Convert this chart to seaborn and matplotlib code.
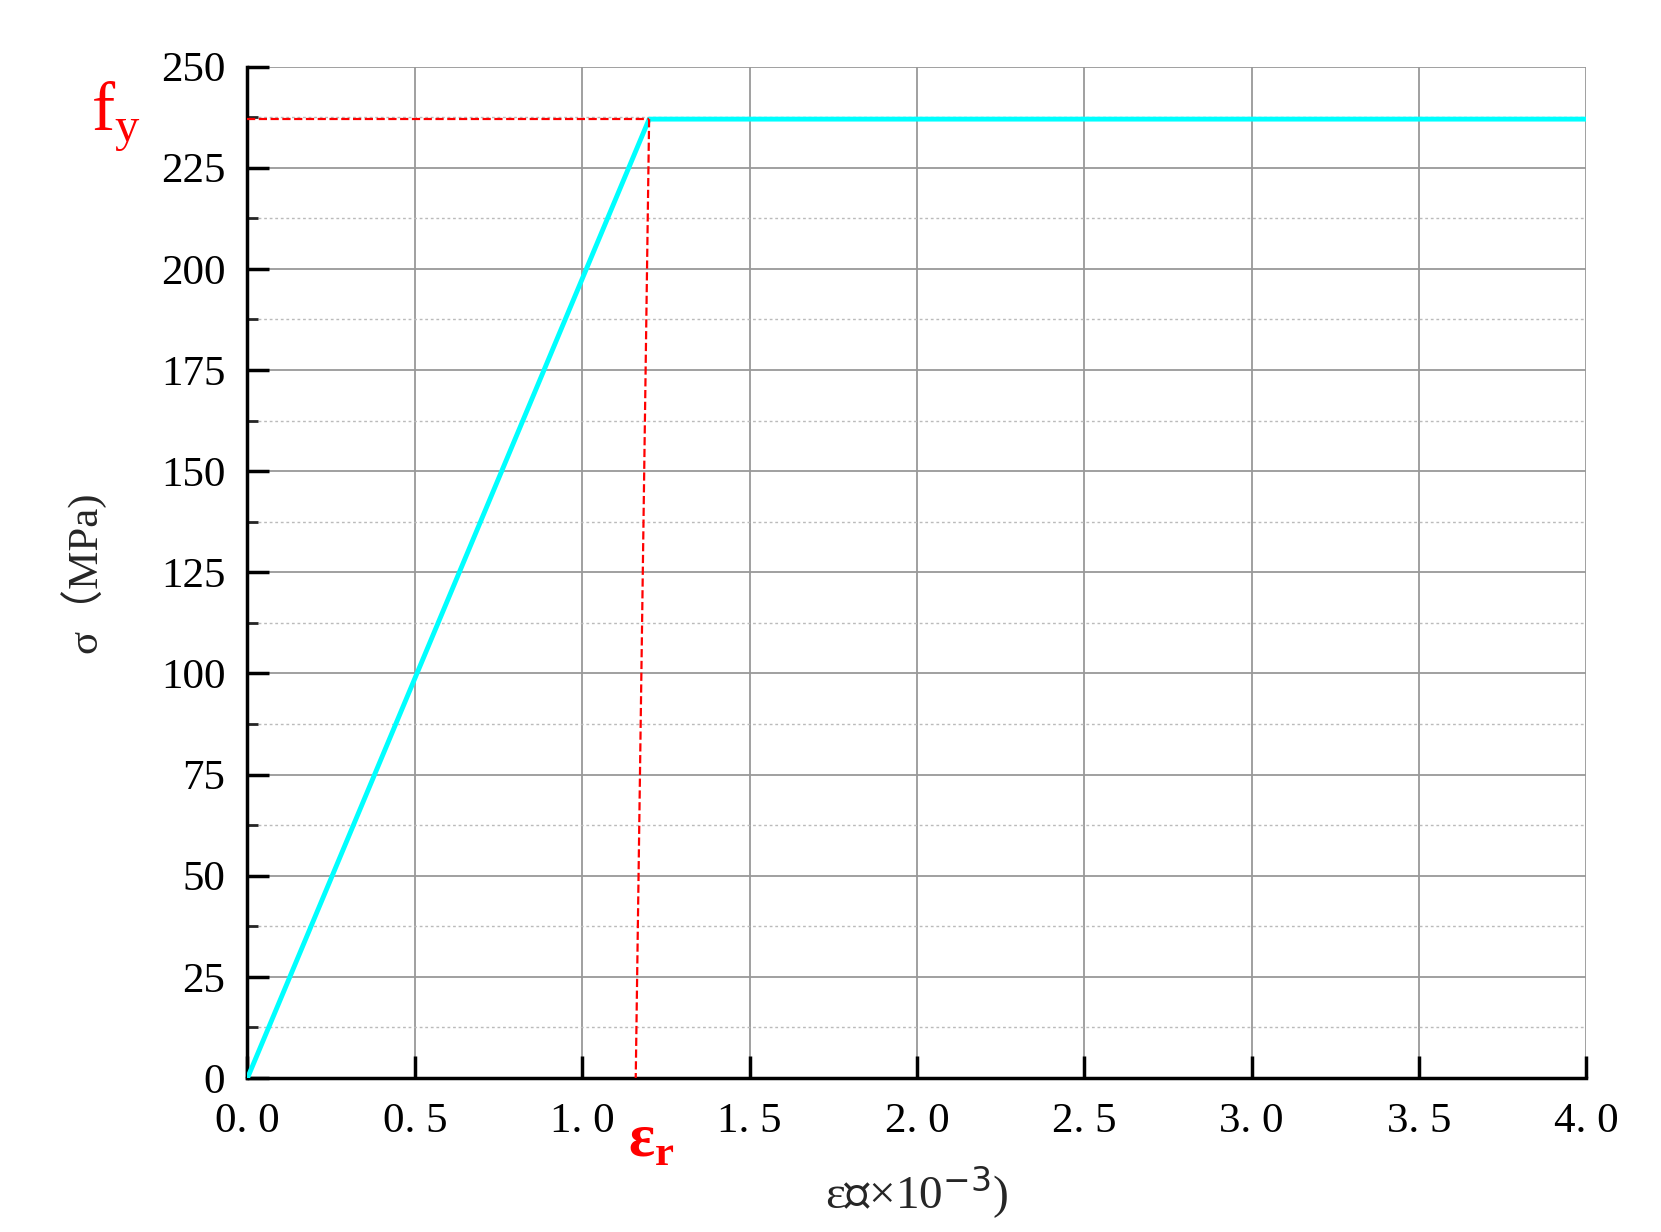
import numpy as np
import matplotlib
matplotlib.use("Agg")
import matplotlib.pyplot as plt
import seaborn as sns
from matplotlib.ticker import MultipleLocator

# stress-strain curve (elastic-perfectly plastic)
strain = [0.0, 1.2, 4.0]
stress = [0.0, 237.0, 237.0]
fy = 237.0
eps_top = 1.2
eps_bottom = 1.16
x_ticks = [0.0, 0.5, 1.0, 1.5, 2.0, 2.5, 3.0, 3.5, 4.0]
x_labels = ["0. 0", "0. 5", "1. 0", "1. 5", "2. 0", "2. 5", "3. 0", "3. 5", "4. 0"]
y_ticks = [0, 25, 50, 75, 100, 125, 150, 175, 200, 225, 250]

sns.set_theme(style="white")
plt.rcParams["font.family"] = ["Liberation Serif", "Noto Sans CJK SC", "DejaVu Serif"]

fig = plt.figure(figsize=(16.61, 12.32), dpi=100)
ax = fig.add_axes([0.149, 0.125, 0.806, 0.821])

ax.yaxis.set_minor_locator(MultipleLocator(12.5))
ax.grid(True, which="major", color="#999999", lw=1.3)
ax.grid(True, which="minor", axis="y", color="#bbbbbb", lw=1, ls=(0, (2, 2)))
ax.set_axisbelow(True)

sns.lineplot(x=strain, y=stress, color="cyan", lw=3.5, ax=ax, zorder=3)
ax.plot([0, eps_top], [fy, fy], color="red", ls="--", lw=1.6, zorder=4)
ax.plot([eps_top, eps_bottom], [fy, 0], color="red", ls="--", lw=1.6, zorder=4)

ax.set_xlim(0, 4.0)
ax.set_ylim(0, 250)
ax.set_xticks(x_ticks)
ax.set_xticklabels(x_labels)
ax.set_yticks(y_ticks)
ax.tick_params(axis="both", which="major", labelsize=31, colors="black",
               length=16, width=2.5, direction="in")
ax.tick_params(axis="x", which="major", pad=18, bottom=True)
ax.tick_params(axis="y", which="major", pad=16, left=True)
ax.tick_params(axis="y", which="minor", length=8, width=2, direction="in", left=True)
for side in ["top", "right"]:
    ax.spines[side].set_visible(False)
for side in ["left", "bottom"]:
    ax.spines[side].set_color("black")
    ax.spines[side].set_linewidth(2.5)

ax.set_ylabel("σ（MPa)", fontsize=31, labelpad=40)
ax.set_xlabel(r"ε（×10$^{-3}$)", fontsize=34, labelpad=16)

fig.text(0.055, 0.895, r"f$_\mathregular{y}$", color="red", fontsize=50)
fig.text(0.378, 0.062, r"ε$_\mathregular{r}$", color="red", fontsize=44, fontweight="bold")

fig.savefig("out.png", dpi=100)
